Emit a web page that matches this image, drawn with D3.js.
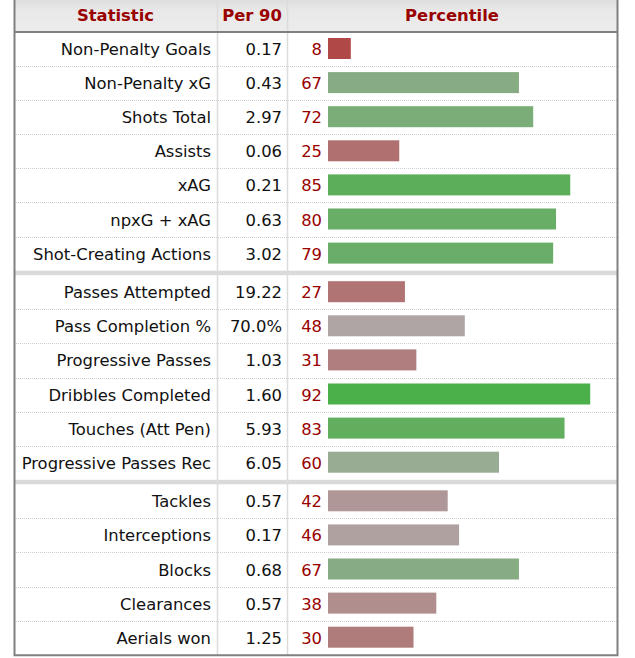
<!DOCTYPE html>
<html>
<head>
<meta charset="utf-8" />
<title>Percentile table</title>
<style>
    body { margin: 0; background: #fff; }
    svg text { font-family: "DejaVu Sans", Verdana, sans-serif; font-size: 16.4px; }
    .head { font-weight: bold; fill: #990000; text-anchor: middle; }
    .stat, .per90 { fill: #111; text-anchor: end; }
    .pct { fill: #990000; text-anchor: end; }
</style>
</head>
<body>
<script src="https://d3js.org/d3.v7.min.js"></script>
<script>
// table contents
var stats = ["Non-Penalty Goals", "Non-Penalty xG", "Shots Total", "Assists", "xAG", "npxG + xAG",
             "Shot-Creating Actions", "Passes Attempted", "Pass Completion %", "Progressive Passes",
             "Dribbles Completed", "Touches (Att Pen)", "Progressive Passes Rec", "Tackles",
             "Interceptions", "Blocks", "Clearances", "Aerials won"];
var per90 = ["0.17", "0.43", "2.97", "0.06", "0.21", "0.63", "3.02", "19.22", "70.0%", "1.03",
             "1.60", "5.93", "6.05", "0.57", "0.17", "0.68", "0.57", "1.25"];
var percentile = [8, 67, 72, 25, 85, 80, 79, 27, 48, 31, 92, 83, 60, 42, 46, 67, 38, 30];
var groupSizes = [7, 6, 5];
var headers = ["Statistic", "Per 90", "Percentile"];

var W = 635, H = 658;
var left = 14, right = 617, col1 = 217, col2 = 287;
var headH = 32, rowH = 34.1, sepH = 4.5;

var groupOf = [];
groupSizes.forEach(function(n, g) { for (var k = 0; k < n; k++) groupOf.push(g); });

var yRow = d3.scaleLinear().domain([0, 1]).range([headH, headH + rowH]);
function rowTop(i) { return yRow(i) + groupOf[i] * sepH; }
var bottom = rowTop(stats.length - 1) + rowH;

var x = d3.scaleLinear().domain([0, 100]).range([328, 613]);
var color = d3.scaleLinear().domain([0, 50, 100])
    .range(["#b03535", "#b0aaaa", "#38b038"]);

var svg = d3.select("body").append("svg")
    .attr("width", W).attr("height", H);

var defs = svg.append("defs");
var grad = defs.append("linearGradient").attr("id", "hg")
    .attr("x1", 0).attr("y1", 0).attr("x2", 0).attr("y2", 1);
grad.append("stop").attr("offset", "0%").attr("stop-color", "#dedede");
grad.append("stop").attr("offset", "35%").attr("stop-color", "#e9e9e9");
grad.append("stop").attr("offset", "100%").attr("stop-color", "#ececec");

// header
svg.append("rect").attr("x", left).attr("y", 0)
    .attr("width", right - left).attr("height", headH).attr("fill", "url(#hg)");

var colCenters = [(left + col1) / 2, (col1 + col2) / 2, (col2 + right) / 2];
svg.selectAll(".head").data(headers).enter().append("text")
    .attr("class", "head")
    .attr("x", function(d, i) { return colCenters[i]; })
    .attr("y", 21)
    .text(function(d) { return d; });

// group separators
svg.selectAll(".sep").data(groupSizes.slice(0, -1)).enter().append("rect")
    .attr("class", "sep")
    .attr("x", left).attr("width", right - left)
    .attr("y", function(d, g) {
        var n = d3.sum(groupSizes.slice(0, g + 1));
        return rowTop(n - 1) + rowH;
    })
    .attr("height", sepH).attr("fill", "#dadada");

// row dotted lines
var idx = d3.range(stats.length).filter(function(i) {
    return i < stats.length - 1 && groupOf[i + 1] === groupOf[i];
});
svg.selectAll(".rl").data(idx).enter().append("line")
    .attr("x1", left).attr("x2", right)
    .attr("y1", function(i) { return Math.round(rowTop(i) + rowH) + 0.5; })
    .attr("y2", function(i) { return Math.round(rowTop(i) + rowH) + 0.5; })
    .attr("stroke", "#cfcfcf").attr("stroke-dasharray", "1,1");

// column lines
[col1, col2].forEach(function(c) {
    svg.append("line").attr("x1", c + 0.5).attr("x2", c + 0.5)
        .attr("y1", 0).attr("y2", bottom)
        .attr("stroke", "#dcdcdc").attr("stroke-width", 1.5);
});

var rows = svg.selectAll(".row").data(stats).enter().append("g")
    .attr("transform", function(d, i) { return "translate(0," + rowTop(i) + ")"; });

rows.append("text").attr("class", "stat")
    .attr("x", 211).attr("y", 23).text(function(d) { return d; });
rows.append("text").attr("class", "per90")
    .attr("x", 282).attr("y", 23).text(function(d, i) { return per90[i]; });
rows.append("text").attr("class", "pct")
    .attr("x", 322).attr("y", 23).text(function(d, i) { return percentile[i]; });
rows.append("rect")
    .attr("x", x(0)).attr("y", 6).attr("height", 21)
    .attr("width", function(d, i) { return x(percentile[i]) - x(0); })
    .attr("fill", function(d, i) { return color(percentile[i]); });

// header bottom + outer border
svg.append("line").attr("x1", left).attr("x2", right)
    .attr("y1", headH).attr("y2", headH)
    .attr("stroke", "#808080").attr("stroke-width", 2);
svg.append("path")
    .attr("d", "M" + (left + 0.5) + ",0V" + (bottom + 0.5) + "H" + (right + 0.5) + "V0")
    .attr("fill", "none").attr("stroke", "#808080").attr("stroke-width", 2);
</script>
</body>
</html>
